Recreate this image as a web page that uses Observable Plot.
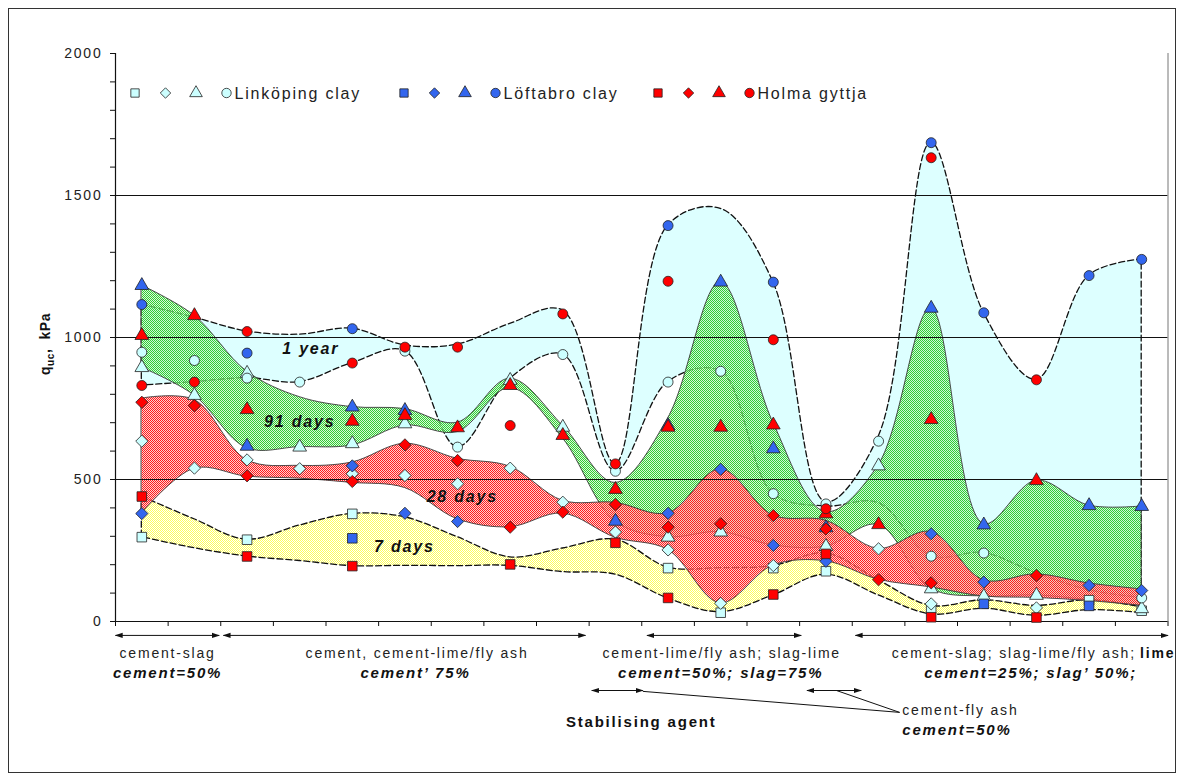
<!DOCTYPE html>
<html>
<head>
<meta charset="utf-8">
<script src="https://cdn.jsdelivr.net/npm/d3@7"></script>
<script src="https://cdn.jsdelivr.net/npm/@observablehq/plot@0.6"></script>
<style>
  html, body { margin: 0; padding: 0; background: #fff; }
  #chart { position: relative; width: 1183px; height: 774px; }
  #chart svg text { letter-spacing: 1.8px; }
</style>
</head>
<body>
<div id="chart"></div>
<script>
// Test series along the x axis (one column per mix)
const columns = d3.range(20);

// Unconfined compressive strength q_uc (kPa) per clay and curing time; null = not tested
const linkoping7   = [297, null, 288, null, 379, null, null, null, null, null, 188, 31, 188, 177, null, 45, null, null, 75, 38];
const linkoping28  = [635, 540, 569, 538, 520, 514, 485, 540, 420, 315, 252, 64, 197, null, 256, 62, null, 48, null, null];
const linkoping91  = [894, 796, 874, 614, 626, 696, null, 849, 684, null, 297, 315, null, 264, 548, 115, 88, 92, null, 45];
const linkoping365 = [948, 919, 857, 843, null, 952, 614, null, 940, 529, 843, 881, 450, 414, 635, 230, 241, null, null, 83];
const loftabro7    = [null, null, null, null, 293, null, null, null, null, null, null, null, null, null, null, null, 62, null, 55, null];
const loftabro28   = [380, null, null, null, 548, 381, 352, null, null, null, 381, 536, 268, 212, null, 309, 139, null, 127, 109];
const loftabro91   = [1183, null, 617, null, 755, 743, null, null, null, 353, 690, 1195, 608, 330, null, 1103, 340, null, 408, 405];
const loftabro365  = [1116, null, 945, null, 1031, null, null, null, null, null, 1394, null, 1195, null, null, 1686, 1087, null, 1218, 1275];
const holma7       = [440, null, 229, null, 195, null, null, 201, null, 277, 83, null, 95, 238, null, 15, null, 14, null, null];
const holma28      = [772, 760, 513, null, 493, 622, 567, 332, 385, 412, 332, 344, 373, 326, 147, 136, null, 162, null, null];
const holma91      = [1007, 1077, 746, null, 705, 725, 682, 831, 655, 465, 684, 684, 692, 379, 341, 711, null, 496, null, null];
const holma365     = [831, 843, 1021, null, 910, 966, 966, 690, 1083, 555, 1198, null, 992, 397, null, 1633, null, 851, null, null];

// Envelopes of each curing time (lower / upper bound, kPa) per column
const band7Lo   = [297, 258, 229, 213, 195, 196, 195, 196, 174, 165, 81, 33, 92, 165, 92, 25, 45, 20, 40, 30];
const band7Hi   = [440, 360, 288, 338, 379, 367, 297, 226, 257, 288, 190, 188, 195, 240, 145, 55, 75, 55, 75, 50];
const band28Lo  = [380, 538, 510, 503, 488, 470, 360, 332, 380, 295, 252, 64, 197, 212, 147, 120, 88, 83, 72, 55];
const band28Hi  = [785, 780, 568, 548, 560, 626, 573, 545, 425, 418, 381, 536, 373, 355, 256, 315, 145, 166, 134, 113];
const band91Lo  = [894, 796, 610, 614, 620, 690, 667, 822, 645, 352, 297, 315, 268, 264, 340, 115, 88, 92, 75, 55];
const band91Hi  = [1183, 1077, 880, 790, 755, 748, 700, 855, 690, 488, 715, 1195, 700, 385, 550, 1103, 343, 496, 408, 405];
const band365Lo = [831, 843, 857, 843, 910, 952, 614, 855, 940, 529, 843, 881, 450, 405, 417, 230, 241, 170, 110, 83];
const band365Hi = [1116, 1070, 1021, 1010, 1031, 972, 975, 1048, 1095, 555, 1394, 1453, 1195, 420, 650, 1686, 1087, 851, 1218, 1275];

// y axis labels
const yLabels = [0, 500, 1000, 1500, 2000];

// Curing-time labels placed inside the envelopes
const bandLabels = [
  {x: 3.71, y: 961, text: "1 year"},
  {x: 3.50, y: 702, text: "91 days"},
  {x: 6.59, y: 438, text: "28 days"},
  {x: 5.49, y: 262, text: "7 days"}
];

// Stabilising-agent groups under the axis
const groupArrows = [
  {x1: 0.0, x2: 1.97, y: -49}, {x1: 2.05, x2: 8.93, y: -49},
  {x1: 10.1, x2: 13.03, y: -49}, {x1: 14.06, x2: 20.0, y: -49},
  {x1: 9.05, x2: 10.02, y: -243}, {x1: 13.14, x2: 14.17, y: -243}
];
const leaderLines = [
  {x1: 10.02, y1: -246, x2: 14.9, y2: -320},
  {x1: 13.7, y1: -243, x2: 14.9, y2: -320}
];
const groupNames = [
  {x: 0.99, text: "cement-slag"},
  {x: 5.73, text: "cement, cement-lime/fly ash"},
  {x: 11.52, text: "cement-lime/fly ash; slag-lime"}
];
const groupDosage = [
  {x: 0.99, text: "cement=50%"},
  {x: 5.70, text: "cement’ 75%"},
  {x: 11.50, text: "cement=50%; slag=75%"},
  {x: 17.39, text: "cement=25%; slag’ 50%;"}
];

const clays = [
  {name: "Linköping clay", fill: "#CCFFFF", series: [linkoping7, linkoping28, linkoping91, linkoping365]},
  {name: "Löftabro clay", fill: "#3366EE", series: [loftabro7, loftabro28, loftabro91, loftabro365]},
  {name: "Holma gyttja", fill: "#FF0000", series: [holma7, holma28, holma91, holma365]}
];
// symbol and radius per curing time: 7 d, 28 d, 91 d, 1 year
const ageSymbols = [
  {symbol: "square", r: 5.4},
  {symbol: "diamond2", r: 5.5},
  {symbol: "triangle", r: 5.1},
  {symbol: "circle", r: 5}
];

const bands = columns.map(i => ({
  x: i + 0.5,
  lo7: band7Lo[i], hi7: band7Hi[i],
  lo28: band28Lo[i], hi28: band28Hi[i],
  lo91: band91Lo[i], hi91: band91Hi[i],
  lo365: band365Lo[i], hi365: band365Hi[i]
}));

const font = "Arial, 'Liberation Sans', sans-serif";

const pointMarks = [];
for (const clay of clays) {
  clay.series.forEach((values, k) => {
    const rows = columns.filter(i => values[i] != null).map(i => ({x: i + 0.5, y: values[i]}));
    pointMarks.push(Plot.dot(rows, {
      x: "x", y: "y",
      symbol: ageSymbols[k].symbol, r: ageSymbols[k].r,
      fill: clay.fill, stroke: "#222", strokeWidth: 0.8
    }));
  });
}

const svg = Plot.plot({
  width: 1183,
  height: 774,
  marginLeft: 115,
  marginRight: 15.5,
  marginTop: 53,
  marginBottom: 153,
  x: {domain: [0, 20], axis: null},
  y: {domain: [0, 2000], axis: null},
  style: {fontFamily: font, fontSize: "14px", color: "#222", background: "#fff", overflow: "visible"},
  marks: [
    // envelopes, back to front: 1 year, 91 days, 7 days, 28 days
    Plot.areaY(bands, {x: "x", y1: "lo365", y2: "hi365", curve: "catmull-rom",
      fill: "#DDFFFF", stroke: "#111", strokeWidth: 1.3, strokeDasharray: "6,3"}),
    Plot.areaY(bands, {x: "x", y1: "lo91", y2: "hi91", curve: "catmull-rom",
      fill: "url(#hatchGreen)", stroke: "#3a3a3a", strokeWidth: 0.9}),
    Plot.areaY(bands, {x: "x", y1: "lo7", y2: "hi7", curve: "catmull-rom",
      fill: "url(#hatchYellow)", stroke: "#111", strokeWidth: 1.3, strokeDasharray: "6,3"}),
    Plot.areaY(bands, {x: "x", y1: "lo28", y2: "hi28", curve: "catmull-rom",
      fill: "url(#hatchRed)", stroke: "#3a3a3a", strokeWidth: 0.9}),

    // grid, axes and frame
    Plot.ruleY([500, 1000, 1500], {stroke: "#111", strokeWidth: 1}),
    Plot.ruleY([0], {stroke: "#111", strokeWidth: 1.2}),
    Plot.ruleX([0], {stroke: "#111", strokeWidth: 1.2}),
    Plot.ruleX([20], {stroke: "#777", strokeWidth: 1}),
    Plot.axisY(d3.range(0, 2001, 100), {tickSize: 5, tickFormat: () => "", label: null, stroke: "#111"}),
    Plot.axisY(yLabels, {tickSize: 0, tickPadding: 13, label: null, fontSize: 14, fill: "#222",
      tickFormat: d => String(d)}),
    Plot.axisX(d3.range(0, 21), {tickSize: 5, tickFormat: () => "", label: null, stroke: "#111"}),

    ...pointMarks,

    Plot.text(bandLabels, {x: "x", y: "y", text: "text", fontSize: 16, fontWeight: "bold",
      fontStyle: "italic", fill: "#111"}),

    // stabilising agent annotations below the axis (first link mark gets arrowheads)
    Plot.link(groupArrows, {x1: "x1", x2: "x2", y1: "y", y2: "y", stroke: "#111", strokeWidth: 1}),
    Plot.link(leaderLines, {x1: "x1", y1: "y1", x2: "x2", y2: "y2", stroke: "#111", strokeWidth: 1}),
    Plot.text(groupNames, {x: "x", y: -113, text: "text", fontSize: 14, fill: "#222"}),
    Plot.text(["cement-slag; slag-lime/fly ash;"], {x: 19.39, y: -113, text: d => d,
      textAnchor: "end", fontSize: 14, fill: "#222"}),
    Plot.text(["lime"], {x: 19.47, y: -113, text: d => d, textAnchor: "start",
      fontSize: 14, fontWeight: "bold", fill: "#111"}),
    Plot.text(groupDosage, {x: "x", y: -183, text: "text", fontSize: 15, fontWeight: "bold",
      fontStyle: "italic", fill: "#111"}),
    Plot.text(["cement-fly ash"], {x: 14.95, y: -313, text: d => d, textAnchor: "start",
      fontSize: 14, fill: "#222"}),
    Plot.text(["cement=50%"], {x: 14.95, y: -384, text: d => d, textAnchor: "start",
      fontSize: 15, fontWeight: "bold", fontStyle: "italic", fill: "#111"}),
    Plot.text(["Stabilising agent"], {x: 9.99, y: -356, text: d => d, fontSize: 15,
      fontWeight: "bold", fill: "#111"})
  ]
});

// dithered fills for the envelopes, and arrowheads
const root = d3.select(svg);
const defs = root.insert("defs", ":first-child");
function hatch(id, a, b, bOpacity) {
  const p = defs.append("pattern").attr("id", id)
    .attr("patternUnits", "userSpaceOnUse").attr("width", 2).attr("height", 2);
  for (const [cx, cy, c, o] of [[0, 0, a, 1], [1, 1, a, 1], [1, 0, b, bOpacity], [0, 1, b, bOpacity]]) {
    p.append("rect").attr("x", cx).attr("y", cy).attr("width", 1).attr("height", 1)
      .attr("fill", c).attr("fill-opacity", o);
  }
}
hatch("hatchGreen", "#33CC33", "#C0F4C0", 0.6);
hatch("hatchRed", "#FF1C1C", "#FFB0B0", 0.6);
hatch("hatchYellow", "#FFFF5A", "#FFFFFF", 0.9);

defs.append("marker").attr("id", "arrowHead")
  .attr("viewBox", "0 0 10 10").attr("refX", 9).attr("refY", 5)
  .attr("markerUnits", "userSpaceOnUse")
  .attr("markerWidth", 8).attr("markerHeight", 8).attr("orient", "auto-start-reverse")
  .append("path").attr("d", "M0,1.8L10,5L0,8.2Z").attr("fill", "#111");
const linkGroups = root.selectAll('g[aria-label="link"]').nodes();
if (linkGroups.length) {
  d3.select(linkGroups[0]).selectAll("path")
    .attr("marker-start", "url(#arrowHead)").attr("marker-end", "url(#arrowHead)");
}

// outer frame
root.append("rect").attr("x", 8.5).attr("y", 8.5).attr("width", 1167).attr("height", 764)
  .attr("fill", "none").attr("stroke", "#333").attr("stroke-width", 1);

// y axis title with subscript
const yTitle = root.append("text")
  .attr("transform", "translate(50,344) rotate(-90)")
  .attr("text-anchor", "middle")
  .attr("font-family", font).attr("font-size", 14).attr("font-weight", "bold")
  .attr("fill", "#111").style("letter-spacing", "0.6px");
yTitle.append("tspan").text("q");
yTitle.append("tspan").attr("font-size", 10).attr("dy", 4).text("uc");
yTitle.append("tspan").attr("dy", -4).text(",  kPa");

// legend: one symbol per curing time, then the clay name
const legendY = 93;
const legendStarts = [135, 404, 658];
const symbolTypes = {square: d3.symbolSquare, diamond2: d3.symbolDiamond2, triangle: d3.symbolTriangle, circle: d3.symbolCircle};
clays.forEach((clay, c) => {
  ageSymbols.forEach((s, k) => {
    root.append("path")
      .attr("d", d3.symbol(symbolTypes[s.symbol], Math.PI * 22)())
      .attr("transform", `translate(${legendStarts[c] + k * 30.5},${legendY})`)
      .attr("fill", clay.fill).attr("stroke", "#222").attr("stroke-width", 0.8);
  });
  root.append("text")
    .attr("x", legendStarts[c] + 3 * 30.5 + 8).attr("y", legendY)
    .attr("dy", "0.36em").attr("text-anchor", "start")
    .attr("font-family", font).attr("font-size", 16).attr("fill", "#222")
    .text(clay.name);
});

document.getElementById("chart").appendChild(svg);
</script>
</body>
</html>
